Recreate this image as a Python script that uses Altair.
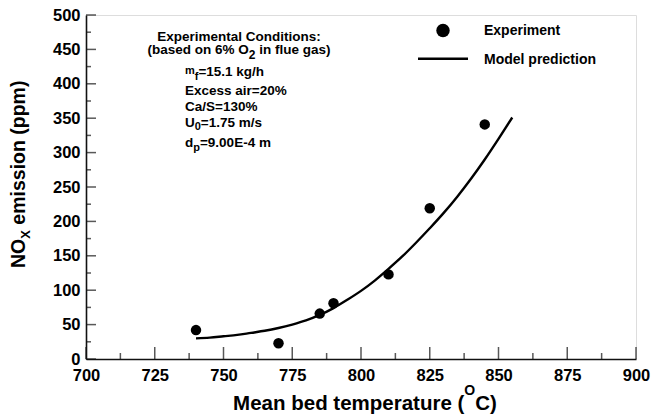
import altair as alt
import pandas as pd

# Measured NOx emission at each mean bed temperature
exp_temp = [740, 770, 785, 790, 810, 825, 845]
exp_nox = [42, 23, 66, 81, 123, 219, 341]

# Model prediction curve
model_temp = [740, 745, 750, 755, 760, 765, 770, 775, 780, 785, 790, 795,
              800, 805, 810, 815, 820, 825, 830, 835, 840, 845, 850, 855]
model_nox = [30, 31, 33, 35, 38, 41, 45, 50, 56, 64, 74, 86,
             99, 114, 131, 149, 169, 190, 212, 236, 262, 290, 320, 351]

# Axis tick values
x_major = [700, 725, 750, 775, 800, 825, 850, 875, 900]
x_minor = [712.5, 737.5, 762.5, 787.5, 812.5, 837.5, 862.5, 887.5]
y_major = [0, 50, 100, 150, 200, 250, 300, 350, 400, 450, 500]
y_minor = [25, 75, 125, 175, 225, 275, 325, 375, 425, 475]

# Texts
legend_labels = ["Experiment", "Model prediction"]
cond_title = "Experimental Conditions:"
cond_basis = ["(based on 6% O", "2", " in flue gas)"]
cond_feed = ["m", "f", "=15.1 kg/h"]
cond_air = "Excess air=20%"
cond_ca = "Ca/S=130%"
cond_u0 = ["U", "0", "=1.75 m/s"]
cond_dp = ["d", "p", "=9.00E-4 m"]
x_title = ["Mean bed temperature (", "O", "C)"]
y_title = ["NO", "X", " emission (ppm)"]

FONT = "Liberation Sans"
W, H = 550, 344

# Approximate advance widths of the bold sans face (per 1000 em)
BOLD_W = {" ": 278, "%": 889, "(": 333, ")": 333, "-": 333,
          ".": 278, "/": 278, ":": 333, "=": 584, "C": 722, "E": 667,
          "M": 833, "N": 722, "O": 778, "S": 667, "U": 722, "X": 667,
          "a": 556, "b": 611, "c": 556, "d": 611, "e": 556, "f": 333,
          "g": 611, "h": 611, "i": 278, "k": 556, "l": 278, "m": 889,
          "n": 611, "o": 611, "p": 611, "r": 389, "s": 556, "t": 333,
          "u": 611, "x": 556}


def text_width(s, size):
    return sum(BOLD_W.get(c, 556) for c in s) * size / 1000.0


def text_run(pieces, x, y, align="left", angle=0):
    """Lay out (text, size, shift) pieces one after another from anchor x, y."""
    widths = [text_width(t, s) for t, s, _ in pieces]
    off = -sum(widths) / 2 if align == "center" else 0.0
    layers = []
    for (t, s, shift), w in zip(pieces, widths):
        # leading blanks would collapse in SVG, so turn them into offset
        body = t.lstrip(" ")
        lead = text_width(t[: len(t) - len(body)], s)
        layers.append(
            alt.Chart(pd.DataFrame({"label": [body]}))
            .mark_text(align="left", baseline="alphabetic", dx=off + lead,
                       dy=shift, fontSize=s, font=FONT, fontWeight="bold",
                       color="black", angle=angle)
            .encode(x=alt.value(x), y=alt.value(y), text="label:N")
        )
        off += w
    return layers


x_scale = alt.Scale(domain=[700, 900], nice=False, zero=False)
y_scale = alt.Scale(domain=[0, 500], nice=False)
x_axis = alt.Axis(values=x_major, ticks=False, grid=False, title=None,
                  domainColor="#111", domainWidth=1.6, labelFont=FONT,
                  labelFontWeight="bold", labelFontSize=16.5, labelColor="black",
                  labelPadding=8, labelFlush=False, labelOverlap=False)
y_axis = alt.Axis(values=y_major, ticks=False, grid=False, title=None,
                  domainColor="#111", domainWidth=1.6, labelFont=FONT,
                  labelFontWeight="bold", labelFontSize=16.5, labelColor="black",
                  labelPadding=6, labelOverlap=False)

exp_df = pd.DataFrame({"T": exp_temp, "NOx": exp_nox})
model_df = pd.DataFrame({"T": model_temp, "NOx": model_nox})

model_line = alt.Chart(model_df).mark_line(
    color="black", strokeWidth=2.4, interpolate="monotone"
).encode(
    x=alt.X("T:Q", scale=x_scale, axis=x_axis),
    y=alt.Y("NOx:Q", scale=y_scale, axis=y_axis),
)

exp_points = alt.Chart(exp_df).mark_circle(
    color="black", size=110, opacity=1
).encode(
    x=alt.X("T:Q", scale=x_scale, axis=x_axis),
    y=alt.Y("NOx:Q", scale=y_scale, axis=y_axis),
)


# Inward-pointing tick marks on both axes
def x_ticks(vals, length):
    return alt.Chart(pd.DataFrame({"T": vals})).mark_tick(
        orient="vertical", size=length, thickness=1.5, color="#111",
        yOffset=-length / 2
    ).encode(x=alt.X("T:Q", scale=x_scale, axis=x_axis), y=alt.value(H))


def y_ticks(vals, length):
    return alt.Chart(pd.DataFrame({"NOx": vals})).mark_tick(
        orient="horizontal", size=length, thickness=1.5, color="#111",
        xOffset=length / 2
    ).encode(y=alt.Y("NOx:Q", scale=y_scale, axis=y_axis), x=alt.value(0))


ticks = [x_ticks(x_major, 12), x_ticks(x_minor, 6),
         y_ticks(y_major, 10), y_ticks(y_minor, 5)]

# Legend
legend_marker = alt.Chart(pd.DataFrame({"s": [legend_labels[0]]})).mark_point(
    shape="circle", filled=True, color="black", size=180, opacity=1
).encode(x=alt.value(357), y=alt.value(15.5))
legend_stroke = alt.Chart(pd.DataFrame({"s": [legend_labels[1]]})).mark_rule(
    color="black", strokeWidth=2.5
).encode(x=alt.value(332), x2=alt.value(382), y=alt.value(43.7))
legend_text = (text_run([(legend_labels[0], 14, 0)], 398, 20)
               + text_run([(legend_labels[1], 14, 0)], 398, 48.5))

# Experimental conditions block
FS = 13.5
cond = []
cond += text_run([(cond_title, FS, 0)], 153, 25.7, align="center")
cond += text_run([(cond_basis[0], FS, 0), (cond_basis[1], 12, 5),
                  (cond_basis[2], FS, 0)], 153, 39, align="center")
cond += text_run([(cond_feed[0], 11, -2), (cond_feed[1], 11, 4),
                  (cond_feed[2], FS, 0)], 99, 61)
cond += text_run([(cond_air, FS, 0)], 99, 80)
cond += text_run([(cond_ca, FS, 0)], 99, 95.7)
cond += text_run([(cond_u0[0], FS, 0), (cond_u0[1], 11, 3),
                  (cond_u0[2], FS, 0)], 99, 112)
cond += text_run([(cond_dp[0], FS, 0), (cond_dp[1], 11, 3.5),
                  (cond_dp[2], FS, 0)], 99, 132)

# Axis titles with sub/superscripts
titles = []
titles += text_run([(x_title[0], 20.5, 0), (x_title[1], 14, -15),
                    (x_title[2], 20.5, 0)], 279, 395, align="center")
titles += text_run([(y_title[0], 19.5, 0), (y_title[1], 13, 5),
                    (y_title[2], 19.5, 0)], -61, 253, angle=270)

chart = alt.layer(
    model_line, exp_points, *ticks, legend_marker, legend_stroke,
    *legend_text, *cond, *titles
).properties(
    width=W, height=H,
    autosize=alt.AutoSizeParams(type="none"),
    padding={"left": 86, "top": 15, "right": 17, "bottom": 58},
).configure_view(stroke=None).configure(background="white")

chart.save("out.html", embed_options={"renderer": "svg", "actions": False})
